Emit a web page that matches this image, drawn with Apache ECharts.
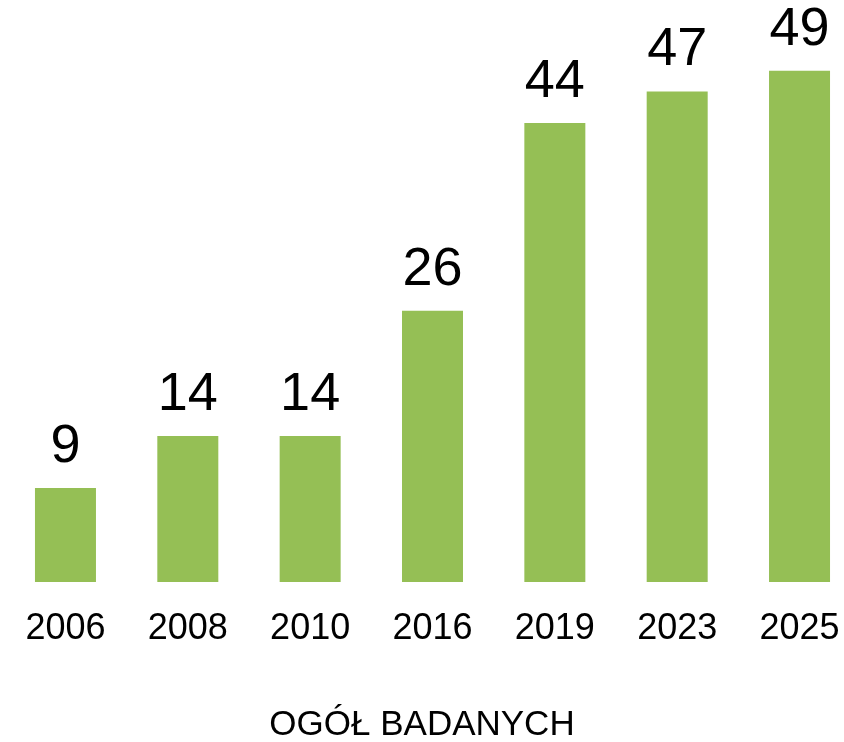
<!DOCTYPE html>
<html>
<head>
<meta charset="utf-8">
<script src="https://cdn.jsdelivr.net/npm/echarts@6/dist/echarts.min.js"></script>
<style>
  html, body { margin: 0; padding: 0; background: #fff; }
  #main { width: 844px; height: 742px; }
</style>
</head>
<body>
<div id="main"></div>
<script>
// data
const years = ['2006', '2008', '2010', '2016', '2019', '2023', '2025'];
const values = [9, 14, 14, 26, 44, 47, 49];
const titleText = 'OGÓŁ BADANYCH';

const FONT = '"Liberation Sans", Arial, sans-serif';

let chartDom = document.getElementById('main');
let myChart = echarts.init(chartDom);

let optionObj = {
    animation: false,
    title: {
        text: titleText,
        left: 'center',
        top: 703,
        textStyle: {
            fontFamily: FONT,
            fontSize: 35,
            fontWeight: 'normal',
            color: '#000'
        }
    },
    grid: {
        left: 4.3,
        width: 856.4,
        top: 60.3,
        bottom: 160,
        outerBoundsMode: 'none' // grid runs a bit past the right edge, like the original
    },
    xAxis: {
        type: 'category',
        data: years,
        axisLine: { show: false },
        axisTick: { show: false },
        axisLabel: {
            margin: 29,
            fontFamily: FONT,
            fontSize: 36,
            color: '#000'
        }
    },
    yAxis: {
        type: 'value',
        min: 0,
        max: 50,
        show: false,
        splitLine: { show: false }
    },
    series: [
        {
            type: 'bar',
            data: values,
            barWidth: 61,
            itemStyle: { color: '#95bf55' },
            label: {
                show: true,
                position: 'top',
                distance: 14,
                fontFamily: FONT,
                fontSize: 54,
                color: '#000'
            }
        }
    ]
};

myChart.setOption(optionObj);
</script>
</body>
</html>
